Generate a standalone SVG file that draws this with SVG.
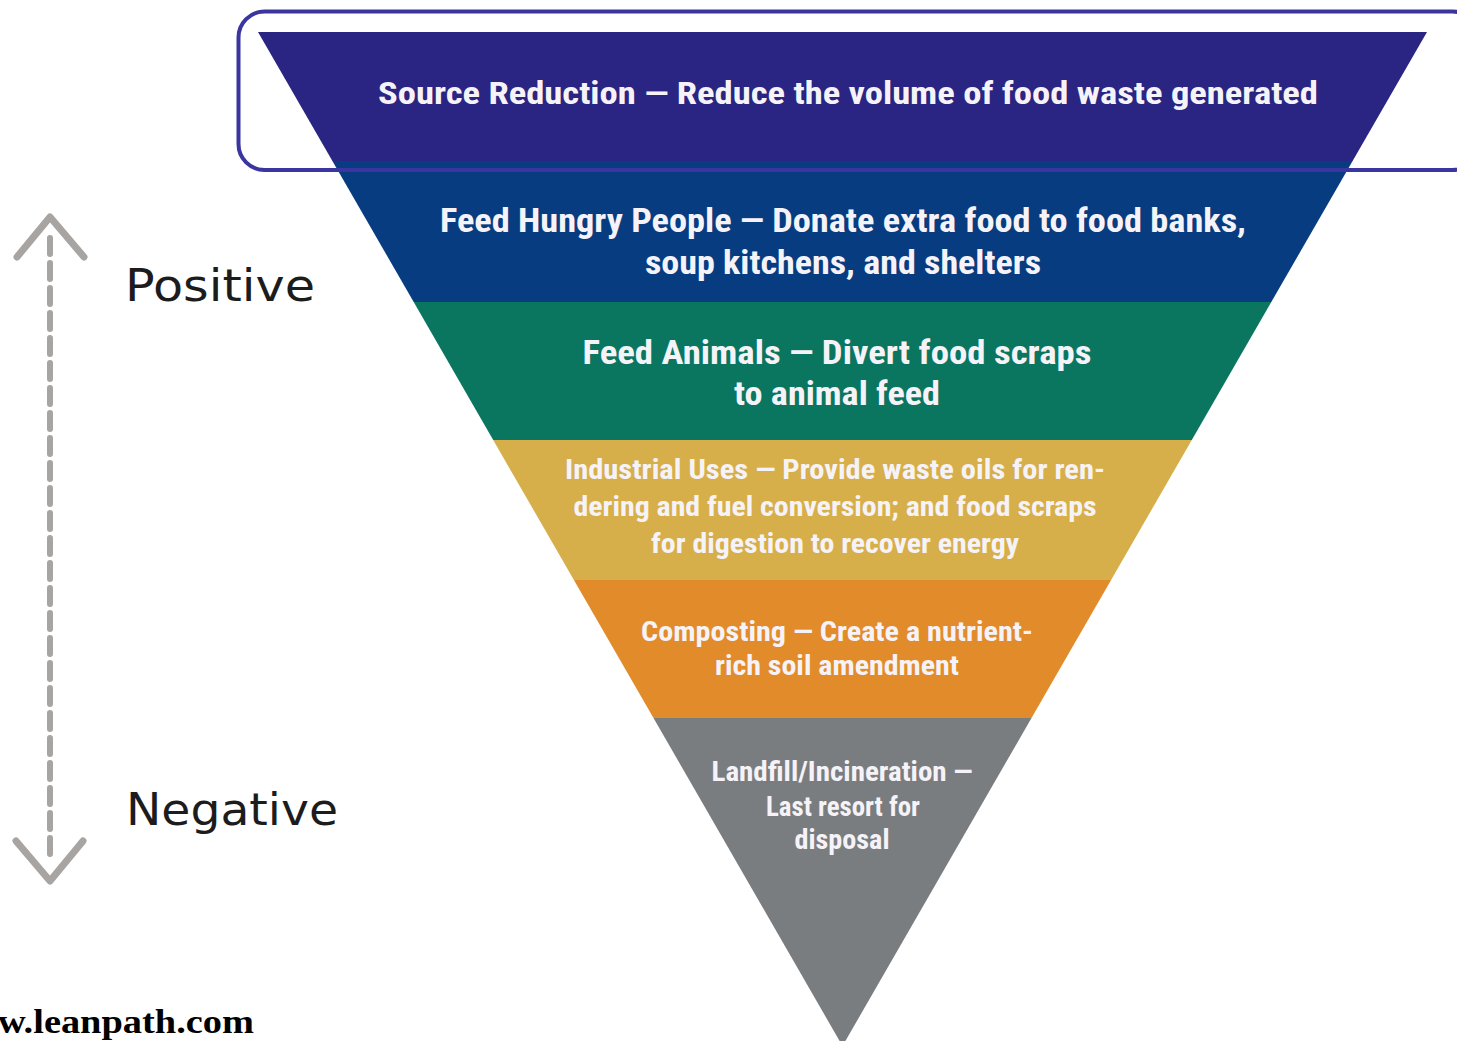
<svg xmlns="http://www.w3.org/2000/svg" width="1457" height="1041" viewBox="0 0 1457 1041">
  <style>
    .band-text { font-family: "Liberation Sans Narrow", "Roboto Condensed", "Roboto", "Liberation Sans", sans-serif; font-weight: bold; fill: #f6f3f8; text-anchor: middle; }
    .axis-label { font-family: "DejaVu Sans", "Liberation Sans", sans-serif; fill: #1c1c1c; }
    .arrow { fill: none; stroke: #a7a4a2; stroke-linecap: round; stroke-linejoin: round; }
  </style>
  <rect width="1457" height="1041" fill="#ffffff"/>

  <g id="source-reduction">
    <polygon points="258,32 1427,32 1352.6,161 332.4,161" fill="#2a2482"/>
    <text class="band-text" x="848" y="104" font-size="32" textLength="940" lengthAdjust="spacingAndGlyphs">Source Reduction — Reduce the volume of food waste generated</text>
  </g>

  <g id="feed-hungry-people">
    <polygon points="332.4,161 1352.6,161 1271.3,302 413.7,302" fill="#073d80"/>
    <text class="band-text" x="843" y="232" font-size="33" textLength="806" lengthAdjust="spacingAndGlyphs">Feed Hungry People — Donate extra food to food banks,</text>
    <text class="band-text" x="843" y="274" font-size="33" textLength="396" lengthAdjust="spacingAndGlyphs">soup kitchens, and shelters</text>
  </g>

  <g id="feed-animals">
    <polygon points="413.7,302 1271.3,302 1191.8,440 493.2,440" fill="#0a7660"/>
    <text class="band-text" x="837" y="364" font-size="33" textLength="509" lengthAdjust="spacingAndGlyphs">Feed Animals — Divert food scraps</text>
    <text class="band-text" x="837" y="405" font-size="33" textLength="206" lengthAdjust="spacingAndGlyphs">to animal feed</text>
  </g>

  <g id="industrial-uses">
    <polygon points="493.2,440 1191.8,440 1111.1,580 573.9,580" fill="#d6af4b"/>
    <text class="band-text" x="835" y="479" font-size="28" textLength="540" lengthAdjust="spacingAndGlyphs">Industrial Uses — Provide waste oils for ren-</text>
    <text class="band-text" x="835" y="516" font-size="28" textLength="523" lengthAdjust="spacingAndGlyphs">dering and fuel conversion; and food scraps</text>
    <text class="band-text" x="835" y="553" font-size="28" textLength="368" lengthAdjust="spacingAndGlyphs">for digestion to recover energy</text>
  </g>

  <g id="composting">
    <polygon points="573.9,580 1111.1,580 1031.5,718 653.5,718" fill="#e28b2b"/>
    <text class="band-text" x="837" y="641" font-size="28" textLength="392" lengthAdjust="spacingAndGlyphs">Composting — Create a nutrient-</text>
    <text class="band-text" x="837" y="675" font-size="28" textLength="244" lengthAdjust="spacingAndGlyphs">rich soil amendment</text>
  </g>

  <g id="landfill-incineration">
    <polygon points="653.5,718 1031.5,718 842.5,1046" fill="#7a7d7f"/>
    <text class="band-text" x="842" y="781" font-size="27" textLength="261" lengthAdjust="spacingAndGlyphs">Landfill/Incineration —</text>
    <text class="band-text" x="843" y="816" font-size="27" textLength="154" lengthAdjust="spacingAndGlyphs">Last resort for</text>
    <text class="band-text" x="842" y="849" font-size="27" textLength="95" lengthAdjust="spacingAndGlyphs">disposal</text>
  </g>

  <g id="highlight-frame">
    <rect x="238.5" y="11.5" width="1240" height="158.5" rx="26" ry="26" fill="none" stroke="#3b35a0" stroke-width="4"/>
  </g>

  <g id="connectors">
    <line class="arrow" x1="50" y1="238" x2="50" y2="858" stroke-width="6" stroke-dasharray="16 9" stroke-linecap="butt"/>
    <polyline class="arrow" points="17,257 50,217 84,257" stroke-width="7"/>
    <polyline class="arrow" points="16,841 50,881 83,841" stroke-width="7"/>
  </g>

  <g id="label-positive">
    <text class="axis-label" x="125" y="301" font-size="45" textLength="190" lengthAdjust="spacingAndGlyphs">Positive</text>
  </g>
  <g id="label-negative">
    <text class="axis-label" x="126" y="825" font-size="45" textLength="212" lengthAdjust="spacingAndGlyphs">Negative</text>
  </g>

  <g id="source-credit">
    <text x="-2" y="1033" font-family="Liberation Serif, serif" font-weight="bold" font-size="33" fill="#000000" textLength="256" lengthAdjust="spacingAndGlyphs">w.leanpath.com</text>
  </g>
</svg>
